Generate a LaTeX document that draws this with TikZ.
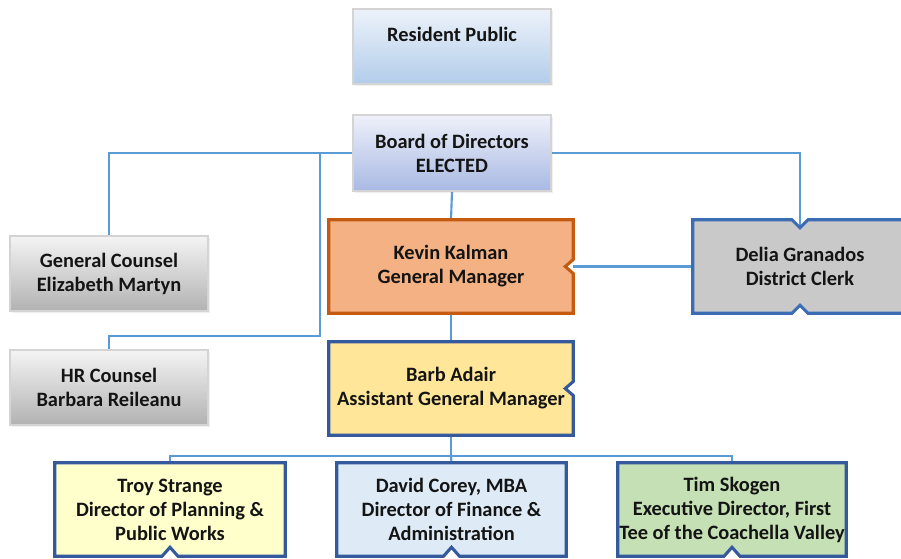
\documentclass[tikz,border=0pt]{standalone}
\usepackage{fontspec}
\setmainfont{Carlito}
\usetikzlibrary{calc,backgrounds,shadows}
\definecolor{conn}{HTML}{5B9BD5}
\definecolor{dkblue}{HTML}{34599C}
\definecolor{mdblue}{HTML}{3A6DB3}
\definecolor{korange}{HTML}{C55A11}
\definecolor{kfill}{HTML}{F4B183}
\definecolor{bfill}{HTML}{FFE699}
\definecolor{dfill}{HTML}{C9C9C9}
\definecolor{tfill}{HTML}{FFFFCC}
\definecolor{dvfill}{HTML}{DEEBF7}
\definecolor{tmfill}{HTML}{C5E0B4}
\definecolor{rtop}{HTML}{EDF2FA}
\definecolor{rbot}{HTML}{B2CDEA}
\definecolor{btop}{HTML}{EFF1FA}
\definecolor{bbot}{HTML}{A8B9E3}
\definecolor{gtop}{HTML}{F4F4F4}
\definecolor{gbot}{HTML}{B2B2B2}
\definecolor{lborder}{HTML}{D4D4D4}
\begin{document}
\begin{tikzpicture}[x=0.75pt,y=-0.75pt,
  lbl/.style={font=\bfseries\fontsize{15.3}{18}\selectfont,align=center,inner sep=0pt,text=black!92},
  gradbox/.style={lbl,draw=lborder,line width=0.8pt,shading=axis,shading angle=0,
    drop shadow={opacity=0.12,shadow xshift=1.2pt,shadow yshift=-1.2pt}},
  conn/.style={draw=conn,line width=1.6pt},
  shapebox/.style={line width=2.3pt,line join=miter}]
\useasboundingbox (0,0) rectangle (901,559);

% nodes (text)
\node[gradbox,top color=rtop,bottom color=rbot,minimum width=148.5pt,minimum height=56.25pt] (res) at (452,46.5) {Resident Public\\\mbox{}};
\node[gradbox,top color=btop,bottom color=bbot,minimum width=148.5pt,minimum height=57pt] (board) at (452,153) {Board of Directors\\ELECTED};
\node[gradbox,top color=gtop,bottom color=gbot,minimum width=148.5pt,minimum height=56.25pt] (gc) at (109,273.5) {General Counsel\\Elizabeth Martyn};
\node[gradbox,top color=gtop,bottom color=gbot,minimum width=148.5pt,minimum height=56.25pt] (hr) at (109,387.5) {HR Counsel\\Barbara Reileanu};
\node[lbl,minimum width=183pt,minimum height=69.75pt] (kevin) at (451,266.5) {Kevin Kalman\\General Manager};
\node[lbl,minimum width=183pt,minimum height=69.75pt] (barb) at (451,388.5) {Barb Adair\\Assistant General Manager};
\node[lbl,minimum width=160.5pt,minimum height=69.75pt] (delia) at (800,266.5) {Delia Granados\\District Clerk};
\node[lbl,minimum width=172.5pt,minimum height=69.75pt] (troy) at (170,509.5) {Troy Strange\\Director of Planning \&\\Public Works};
\node[lbl,minimum width=171.75pt,minimum height=69.75pt] (david) at (451.5,509.5) {David Corey, MBA\\Director of Finance \&\\Administration};
\node[lbl,minimum width=171pt,minimum height=69.75pt] (tim) at (732,509.5) {Tim Skogen\\Executive Director, First\\Tee of the Coachella Valley};

\begin{scope}[on background layer]
  % connectors
  \coordinate (j1) at (320,153);
  \coordinate (j2) at (320,336);
  \coordinate (split) at (451,456);
  \draw[conn] (board.west) -| (gc.north);
  \draw[conn] (j1) -- (j2) -| (hr.north);
  \draw[conn] (board.east) -| ($(delia.north)+(0,8)$);
  \draw[conn] (board.south) -- (kevin.north);
  \draw[conn] (kevin.east) -- (delia.west);
  \draw[conn] (kevin.south) -- (barb.north);
  \draw[conn] (barb.south) -- (split);
  \draw[conn] (troy.north) |- (split) -| (tim.north);
  \draw[conn] (split) -- (david.north);
  % shapes
  \filldraw[shapebox,draw=korange,fill=kfill] (kevin.north west) -- (kevin.north east) -- ($(kevin.east)+(0,-7)$) -- ($(kevin.east)+(-8,0)$) -- ($(kevin.east)+(0,7)$) -- (kevin.south east) -- (kevin.south west) -- cycle;
  \filldraw[shapebox,draw=dkblue,fill=bfill] (barb.north west) -- (barb.north east) -- ($(barb.east)+(0,-7)$) -- ($(barb.east)+(-8,0)$) -- ($(barb.east)+(0,7)$) -- (barb.south east) -- (barb.south west) -- cycle;
  \filldraw[shapebox,draw=mdblue,fill=dfill] (delia.north west) -- ($(delia.north)+(-8,0)$) -- ($(delia.north)+(0,8)$) -- ($(delia.north)+(8,0)$) -- (delia.north east) -- (delia.south east) -- ($(delia.south)+(8,0)$) -- ($(delia.south)+(0,-8)$) -- ($(delia.south)+(-8,0)$) -- (delia.south west) -- cycle;
  \foreach \n/\f in {troy/tfill,david/dvfill,tim/tmfill}{
    \filldraw[shapebox,draw=dkblue,fill=\f] (\n.north west) -- (\n.north east) -- (\n.south east) -- ($(\n.south)+(8,0)$) -- ($(\n.south)+(0,-9)$) -- ($(\n.south)+(-8,0)$) -- (\n.south west) -- cycle;
  }
\end{scope}
\end{tikzpicture}
\end{document}
